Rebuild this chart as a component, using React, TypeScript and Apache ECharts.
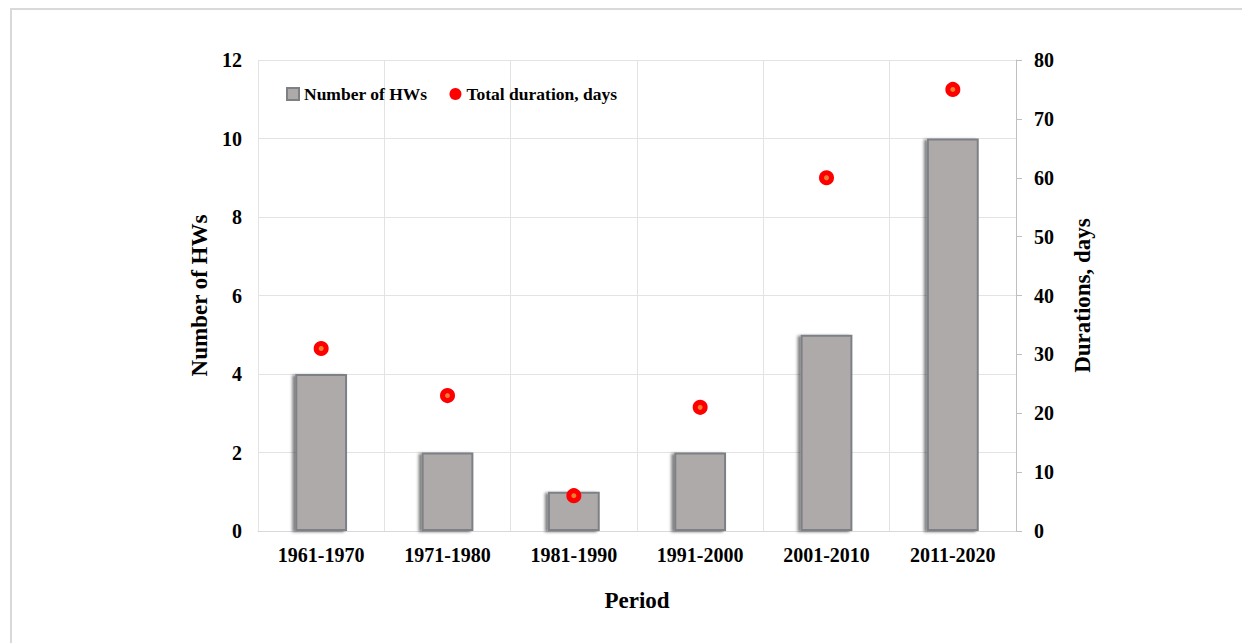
import React, { useEffect, useRef } from "react";
import * as echarts from "echarts";

const periods = ["1961-1970", "1971-1980", "1981-1990", "1991-2000", "2001-2010", "2011-2020"];
const numberOfHWs = [4, 2, 1, 2, 5, 10];
const totalDuration = [31, 23, 6, 21, 60, 75];

const FONT = "'Liberation Serif', 'Times New Roman', serif";

export default function App() {
  const ref = useRef<HTMLDivElement>(null);
  useEffect(() => {
    document.body.style.margin = "0";
    const chart = echarts.init(ref.current!, null, { renderer: "svg" });
    chart.setOption({
      animation: false,
      backgroundColor: "#ffffff",
      textStyle: { fontFamily: FONT, fontWeight: "bold", color: "#000" },
      graphic: [
        {
          type: "rect",
          shape: { x: 11, y: 9, width: 1300, height: 700 },
          style: { fill: "none", stroke: "#d9d9d9", lineWidth: 2 },
          silent: true,
        },
      ],
      legend: {
        left: 281,
        top: 80,
        itemWidth: 12,
        itemHeight: 12,
        itemGap: 22,
        textStyle: { fontFamily: FONT, fontWeight: "bold", fontSize: 17.5, color: "#000" },
        data: [
          { name: "Number of HWs", icon: "rect", itemStyle: { color: "#aeaaaa", borderColor: "#7d8085", borderWidth: 2 } },
          { name: "Total duration, days", icon: "circle", itemStyle: { color: "#ff0000", borderColor: "#ff0000", borderWidth: 0 } },
        ],
      },
      grid: { left: 258, right: 226, top: 60, bottom: 112 },
      xAxis: {
        type: "category",
        data: periods,
        boundaryGap: true,
        name: "Period",
        nameLocation: "middle",
        nameGap: 58,
        nameTextStyle: { fontFamily: FONT, fontWeight: "bold", fontSize: 23, color: "#000" },
        axisLine: { show: true, lineStyle: { color: "#d9d9d9", width: 1 } },
        axisTick: { show: false },
        axisLabel: { fontFamily: FONT, fontWeight: "bold", fontSize: 20, color: "#000", margin: 14 },
        splitLine: { show: true, lineStyle: { color: "#e3e3e3", width: 1 } },
      },
      yAxis: [
        {
          type: "value",
          min: 0,
          max: 12,
          interval: 2,
          position: "left",
          name: "Number of HWs",
          nameLocation: "middle",
          nameGap: 39,
          nameTextStyle: { fontFamily: FONT, fontWeight: "bold", fontSize: 23, color: "#000" },
          axisLine: { show: false },
          axisTick: { show: false },
          axisLabel: { fontFamily: FONT, fontWeight: "bold", fontSize: 20, color: "#000", margin: 16 },
          splitLine: { show: true, lineStyle: { color: "#e3e3e3", width: 1 } },
        },
        {
          type: "value",
          min: 0,
          max: 80,
          interval: 10,
          position: "right",
          name: "Durations, days",
          nameLocation: "middle",
          nameGap: 55,
          nameTextStyle: { fontFamily: FONT, fontWeight: "bold", fontSize: 23, color: "#000" },
          axisLine: { show: true, lineStyle: { color: "#bfbfbf", width: 1 } },
          axisTick: { show: true, inside: false, length: 6, lineStyle: { color: "#bfbfbf" } },
          axisLabel: { fontFamily: FONT, fontWeight: "bold", fontSize: 20, color: "#000", margin: 18 },
          splitLine: { show: false },
        },
      ],
      series: [
        {
          name: "Number of HWs",
          type: "bar",
          yAxisIndex: 0,
          data: numberOfHWs,
          barWidth: "41%",
          itemStyle: {
            color: "#aeaaaa",
            borderColor: "#7d8085",
            borderWidth: 2,
            shadowColor: "rgba(0,0,0,0.5)",
            shadowBlur: 3,
            shadowOffsetX: -3,
            shadowOffsetY: 1,
          },
        },
        {
          name: "Total duration, days",
          type: "scatter",
          yAxisIndex: 1,
          data: totalDuration,
          symbol: "circle",
          symbolSize: 10,
          itemStyle: { color: "#ed7d31", borderColor: "#ff0000", borderWidth: 5, opacity: 1 },
          z: 5,
        },
      ],
    });
    return () => chart.dispose();
  }, []);
  return <div ref={ref} style={{ width: 1242, height: 643 }} />;
}
